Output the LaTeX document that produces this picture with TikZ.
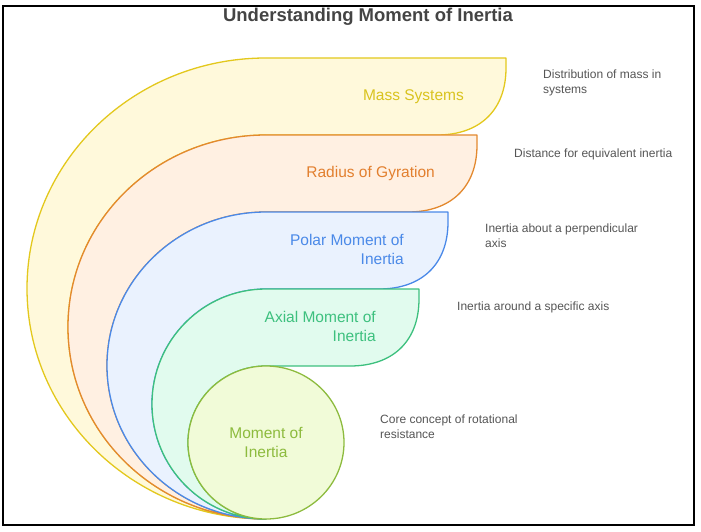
\documentclass[tikz,border=0pt]{standalone}
\usepackage{fontspec}
\setmainfont{Liberation Sans}
\usetikzlibrary{shapes.geometric}

\definecolor{massline}{HTML}{E3C81D}
\definecolor{massfill}{HTML}{FFF9DB}
\definecolor{masstext}{HTML}{D9C31E}
\definecolor{gyrline}{HTML}{E3892F}
\definecolor{gyrfill}{HTML}{FFF0E2}
\definecolor{gyrtext}{HTML}{E27F2E}
\definecolor{polarline}{HTML}{4A89E8}
\definecolor{polarfill}{HTML}{EAF2FE}
\definecolor{axialline}{HTML}{3DC07E}
\definecolor{axialfill}{HTML}{E1FBEE}
\definecolor{coreline}{HTML}{8DBB3E}
\definecolor{corefill}{HTML}{F1FBD8}
\definecolor{notegray}{HTML}{555555}
\definecolor{titlegray}{HTML}{444444}

\begin{document}
\begin{tikzpicture}[x=1pt, y=-1pt,
    band/.style={line width=1.3pt, line join=round},
    bandtext/.style={font=\fontsize{15.5}{19}\selectfont, align=right, anchor=east, inner sep=0pt},
    notetext/.style={font=\fontsize{12}{15}\selectfont, text=notegray, align=left, anchor=west, inner sep=0pt}
]
\useasboundingbox (0,0) rectangle (701,532);
\draw[line width=1.2pt] (3,6) rectangle (694,525);

\node[font=\bfseries\fontsize{18.5}{22}\selectfont, text=titlegray] (title) at (368,17) {Understanding Moment of Inertia};

% bands, outermost first
\draw[band, draw=massline, fill=massfill] (266,519) arc[start angle=90, end angle=270, x radius=239, y radius=230.5]
    -- (506,58) -- (506,68) .. controls (506,110) and (480,135) .. (437,135) -- (266,135)
    arc[start angle=270, end angle=90, x radius=198, y radius=192] -- cycle;
\draw[band, draw=gyrline, fill=gyrfill] (266,519) arc[start angle=90, end angle=270, x radius=198, y radius=192]
    -- (477,135) -- (477,145) .. controls (477,187) and (451,212) .. (408,212) -- (266,212)
    arc[start angle=270, end angle=90, x radius=159, y radius=153.5] -- cycle;
\draw[band, draw=polarline, fill=polarfill] (266,519) arc[start angle=90, end angle=270, x radius=159, y radius=153.5]
    -- (448,212) -- (448,222) .. controls (448,264) and (422,289) .. (379,289) -- (266,289)
    arc[start angle=270, end angle=90, x radius=114, y radius=115] -- cycle;
\draw[band, draw=axialline, fill=axialfill] (266,519) arc[start angle=90, end angle=270, x radius=114, y radius=115]
    -- (419,289) -- (419,299) .. controls (419,341) and (393,366) .. (350,366) -- (266,366)
    arc[start angle=270, end angle=90, x radius=78, y radius=76.5] -- cycle;
\node[ellipse, band, draw=coreline, fill=corefill, text=coreline, minimum width=156pt, minimum height=153pt,
    inner sep=0pt, align=center, font=\fontsize{15.5}{19}\selectfont] (core) at (266,442.5) {Moment of\\Inertia};

\node[bandtext, text=masstext] (mass) at (464,97) {Mass Systems};
\node[bandtext, text=gyrtext] (gyration) at (435,173) {Radius of Gyration};
\node[bandtext, text=polarline] (polar) at (404,249.5) {Polar Moment of\\Inertia};
\node[bandtext, text=axialline] (axial) at (376,326.5) {Axial Moment of\\Inertia};

\node[notetext] (massnote) at (543,82.5) {Distribution of mass in\\systems};
\node[notetext] (gyrationnote) at (514,154) {Distance for equivalent inertia};
\node[notetext] (polarnote) at (485,236) {Inertia about a perpendicular\\axis};
\node[notetext] (axialnote) at (457,307) {Inertia around a specific axis};
\node[notetext] (corenote) at (380,426.5) {Core concept of rotational\\resistance};
\end{tikzpicture}
\end{document}
